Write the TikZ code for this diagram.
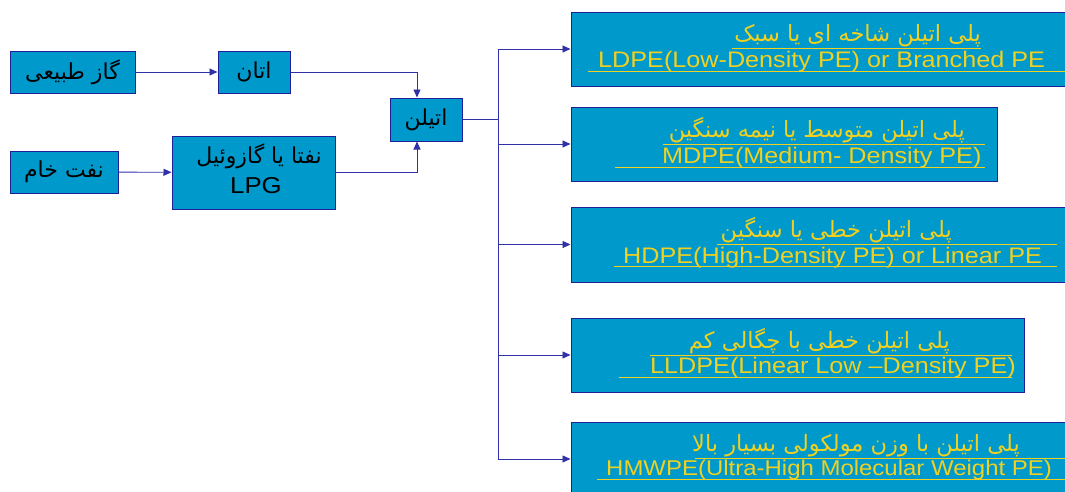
\documentclass[tikz,border=0pt]{standalone}
\usepackage{fontspec}
\setmainfont{Liberation Sans}
\newfontfamily\fa[Script=Arabic]{DejaVu Sans}
\newfontfamily\lat[FakeStretch=1.12]{Liberation Sans}
\TeXXeTstate=1
\usetikzlibrary{arrows.meta}
\definecolor{boxfill}{HTML}{0099CC}
\definecolor{boxdraw}{HTML}{1F1F9A}
\definecolor{linec}{HTML}{3030A8}
\definecolor{txty}{HTML}{F0D020}
\tikzset{
  box/.style={draw=boxdraw, fill=boxfill, line width=1pt, inner sep=0pt},
  conn/.style={draw=linec, line width=0.9pt, -{Triangle[length=8pt,width=7pt]}},
  fatxt/.style={inner sep=0pt, text=txty, font=\fa\fontsize{22.5}{26}\selectfont},
  lattxt/.style={inner sep=0pt, text=txty, font=\lat\fontsize{22.5}{26}\selectfont},
  ltxt/.style={text=black, font=\fa\fontsize{22}{26}\selectfont},
  uline/.style={draw=txty, line width=0.8pt},
}
\begin{document}
\begin{tikzpicture}[x=1pt,y=-1pt]
\useasboundingbox (0,0) rectangle (1065,491);
\clip (0,0) rectangle (1065,491);
% left boxes
\node[box, ltxt, minimum width=125pt, minimum height=42pt] (gas) at (72.5,72) {\beginR گاز طبیعی\endR};
\node[box, ltxt, minimum width=72pt, minimum height=42pt] (ethane) at (254,72) {\beginR اتان\endR};
\node[box, ltxt, minimum width=72pt, minimum height=43pt] (ethy) at (426,119.5) {\beginR اتیلن\endR};
\node[box, ltxt, minimum width=108pt, minimum height=42pt] (crude) at (64,172) {\beginR نفت خام\endR};
\node[box, minimum width=163pt, minimum height=73pt] (naph) at (253.5,172.5) {};
\node[ltxt, inner sep=0pt, anchor=base] (naphfa) at (259,163) {\beginR نفتا یا گازوئیل\endR};
\node[inner sep=0pt, anchor=base, text=black, font=\lat\fontsize{23}{26}\selectfont] (naphlpg) at (256,193) {LPG};
% right boxes
\node[box, minimum width=504pt, minimum height=74pt] (b1) at (823,49) {};
\node[box, minimum width=426pt, minimum height=74pt] (b2) at (784,144) {};
\node[box, minimum width=504pt, minimum height=75pt] (b3) at (823,244.5) {};
\node[box, minimum width=453pt, minimum height=74pt] (b4) at (797.5,355) {};
\node[box, minimum width=504pt, minimum height=74pt] (b5) at (823,459) {};
% texts in right boxes
\node[fatxt, anchor=base east] (f1) at (981,41) {\beginR پلی اتیلن شاخه ای یا سبک\endR};
\node[lattxt, anchor=base west] (l1) at (598,67) {LDPE(Low-Density PE) or Branched PE};
\node[fatxt, anchor=base east] (f2) at (965,137) {\beginR پلی اتیلن متوسط  یا نیمه سنگین\endR};
\node[lattxt, anchor=base west] (l2) at (662,163) {MDPE(Medium- Density PE)};
\node[fatxt, anchor=base east] (f3) at (952,237) {\beginR پلی اتیلن خطی یا سنگین\endR};
\node[lattxt, anchor=base west] (l3) at (623,263) {HDPE(High-Density PE) or Linear PE};
\node[fatxt, anchor=base east] (f4) at (950,348) {\beginR پلی اتیلن خطی با چگالی کم\endR};
\node[lattxt, anchor=base west] (l4) at (650,373) {LLDPE(Linear Low –Density PE)};
\node[fatxt, anchor=base east] (f5) at (1020,451) {\beginR پلی اتیلن با وزن مولکولی بسیار بالا\endR};
\node[lattxt, anchor=base west, font=\lat\fontsize{21.4}{26}\selectfont] (l5) at (606,475) {HMWPE(Ultra-High Molecular Weight PE)};
% underlines
\draw[uline] (732,48) -- (981,48);
\draw[uline] (588,71) -- (1065,71);
\draw[uline] (663,144) -- (985,144);
\draw[uline] (615,167) -- (985,167);
\draw[uline] (717,244) -- (1057,244);
\draw[uline] (614,266) -- (1057,266);
\draw[uline] (650,355) -- (1012,355);
\draw[uline] (619,377) -- (1012,377);
\draw[uline] (695,458) -- (1065,458);
\draw[uline] (597,479) -- (1065,479);
% connectors
\coordinate (tr) at (498,119.5);
\draw[conn] (gas) -- (ethane);
\draw[conn] (ethane.east) -| ([xshift=-9pt]ethy.north);
\draw[conn] (crude) -- (naph);
\draw[conn] (naph.east) -| ([xshift=-9pt]ethy.south);
\foreach \b in {b1,b2,b3,b4,b5}{
  \draw[conn] (ethy.east) -- (tr) |- (\b.west);
}
\end{tikzpicture}
\end{document}
